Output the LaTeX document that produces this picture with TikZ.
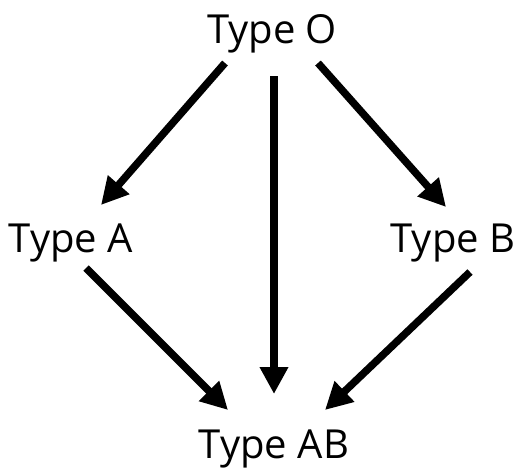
\documentclass[tikz,border=0pt]{standalone}
\usepackage{fontspec}
\setmainfont{Open Sans}
\usetikzlibrary{arrows.meta,calc}
\begin{document}
\begin{tikzpicture}[x=1pt,y=-1pt,
  lbl/.style={font=\fontsize{40}{44}\selectfont, inner sep=0pt, anchor=base},
  conn/.style={line width=7.5pt, -{Triangle[length=27pt,width=27pt]}}]
\useasboundingbox (0,0) rectangle (517,469);
\node[lbl] (o) at (272,43) {Type O};
\node[lbl] (a) at (71,252) {Type A};
\node[lbl] (b) at (453,252) {Type B};
\node[lbl] (ab) at (274,458) {Type AB};
\draw[conn] ($(o.base)+(-47,20)$) -- ($(a.base)+(30,-47)$);
\draw[conn] ($(o.base)+(2,33)$) -- ($(ab.base)+(0,-64)$);
\draw[conn] ($(o.base)+(46,20)$) -- ($(b.base)+(-7,-45)$);
\draw[conn] ($(a.base)+(15,16)$) -- ($(ab.base)+(-46,-48)$);
\draw[conn] ($(b.base)+(17,20)$) -- ($(ab.base)+(51,-48)$);
\end{tikzpicture}
\end{document}
